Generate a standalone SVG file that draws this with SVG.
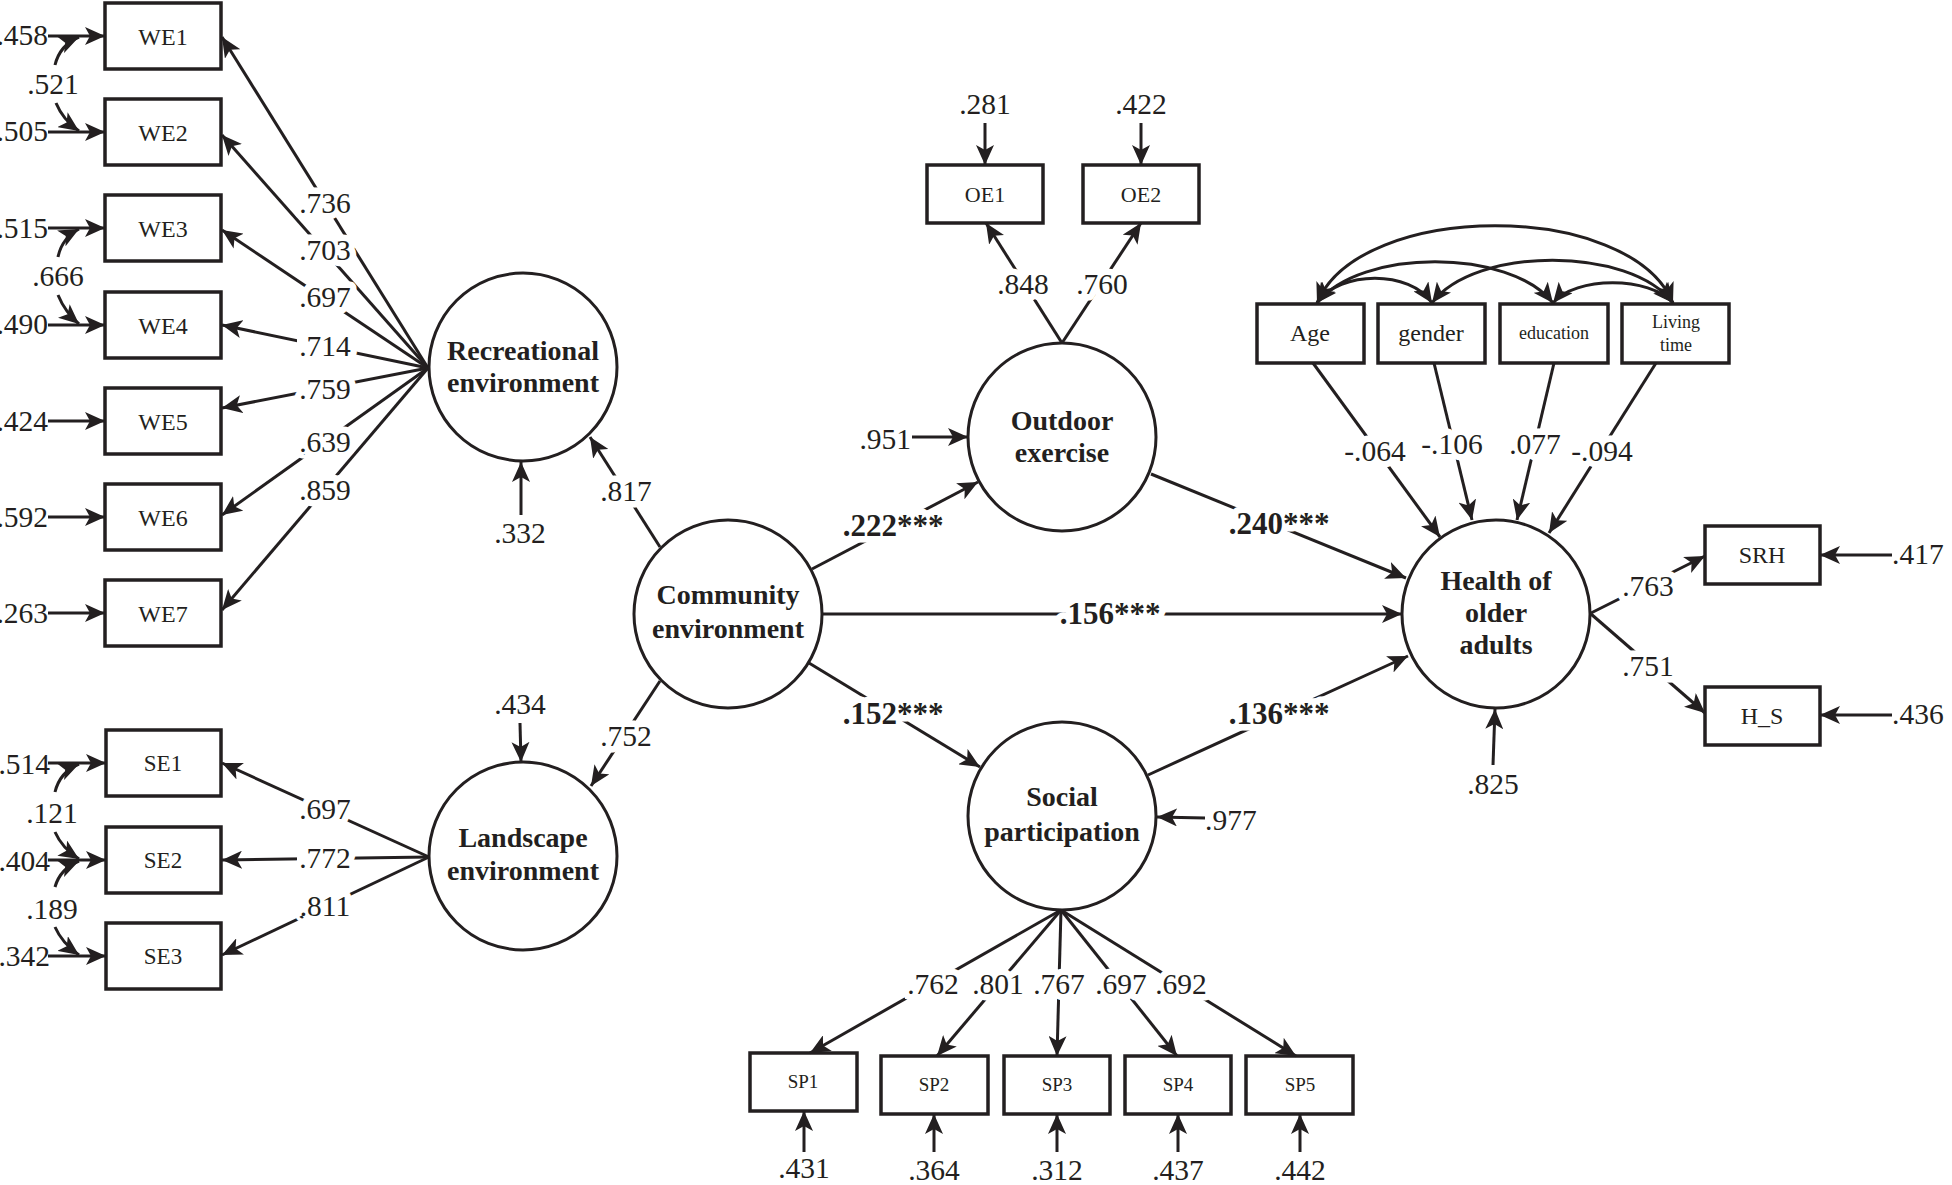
<svg xmlns="http://www.w3.org/2000/svg" width="1952" height="1185" viewBox="0 0 1952 1185">
<style>
.ln{stroke:#231f20;stroke-width:3;fill:none}
.a{marker-end:url(#ah)}
.d{marker-start:url(#ah);marker-end:url(#ah)}
.box{fill:#fff;stroke:#231f20;stroke-width:3.5}
.lat{fill:#fff;stroke:#231f20;stroke-width:3}
.bg{fill:#fff}
text{font-family:"Liberation Serif","Times New Roman",serif;fill:#231f20;text-anchor:middle}
.n{font-size:29.5px}
.h{stroke:#fff;stroke-width:13px;paint-order:stroke;stroke-linejoin:round}
.bl{font-size:28px;font-weight:bold}
.bp{font-size:31px;font-weight:bold}
.e{text-anchor:end}
.s{text-anchor:start}
</style>
<defs>
<marker id="ah" markerUnits="userSpaceOnUse" markerWidth="22" markerHeight="18" refX="20" refY="9" orient="auto-start-reverse" viewBox="0 0 22 18">
<path d="M0,0 L20,9 L0,18 L5,9 Z" fill="#231f20"/>
</marker>
</defs>
<rect width="1952" height="1185" fill="#fff"/>

<g id="nodes">
<g id="WE1"><rect class="box" x="105" y="3" width="116" height="66"/><text x="163" y="45" font-size="24">WE1</text></g>
<g id="WE2"><rect class="box" x="105" y="99" width="116" height="66"/><text x="163" y="141" font-size="24">WE2</text></g>
<g id="WE3"><rect class="box" x="105" y="195" width="116" height="66"/><text x="163" y="237" font-size="24">WE3</text></g>
<g id="WE4"><rect class="box" x="105" y="292" width="116" height="66"/><text x="163" y="334" font-size="24">WE4</text></g>
<g id="WE5"><rect class="box" x="105" y="388" width="116" height="66"/><text x="163" y="430" font-size="24">WE5</text></g>
<g id="WE6"><rect class="box" x="105" y="484" width="116" height="66"/><text x="163" y="526" font-size="24">WE6</text></g>
<g id="WE7"><rect class="box" x="105" y="580" width="116" height="66"/><text x="163" y="622" font-size="24">WE7</text></g>
<g id="SE1"><rect class="box" x="106" y="730" width="115" height="66"/><text x="163" y="771" font-size="23">SE1</text></g>
<g id="SE2"><rect class="box" x="106" y="827" width="115" height="66"/><text x="163" y="868" font-size="23">SE2</text></g>
<g id="SE3"><rect class="box" x="106" y="923" width="115" height="66"/><text x="163" y="964" font-size="23">SE3</text></g>
<g id="OE1"><rect class="box" x="927" y="165" width="116" height="58"/><text x="985" y="202" font-size="22">OE1</text></g>
<g id="OE2"><rect class="box" x="1083" y="165" width="116" height="58"/><text x="1141" y="202" font-size="22">OE2</text></g>
<g id="Age"><rect class="box" x="1257" y="304" width="107" height="59"/><text x="1310" y="341" font-size="24">Age</text></g>
<g id="gender"><rect class="box" x="1378" y="304" width="107" height="59"/><text x="1431" y="341" font-size="24">gender</text></g>
<g id="education"><rect class="box" x="1500" y="304" width="108" height="59"/><text x="1554" y="339" font-size="18">education</text></g>
<g id="LivingTime"><rect class="box" x="1622" y="304" width="107" height="59"/><text x="1676" y="328" font-size="18">Living</text><text x="1676" y="351" font-size="18">time</text></g>
<g id="SRH"><rect class="box" x="1705" y="526" width="115" height="58"/><text x="1762" y="563" font-size="24">SRH</text></g>
<g id="H_S"><rect class="box" x="1705" y="687" width="115" height="58"/><text x="1762" y="724" font-size="24">H_S</text></g>
<g id="SP1"><rect class="box" x="750" y="1053" width="107" height="58"/><text x="803" y="1088" font-size="19">SP1</text></g>
<g id="SP2"><rect class="box" x="881" y="1056" width="107" height="58"/><text x="934" y="1091" font-size="19">SP2</text></g>
<g id="SP3"><rect class="box" x="1004" y="1056" width="106" height="58"/><text x="1057" y="1091" font-size="19">SP3</text></g>
<g id="SP4"><rect class="box" x="1125" y="1056" width="106" height="58"/><text x="1178" y="1091" font-size="19">SP4</text></g>
<g id="SP5"><rect class="box" x="1246" y="1056" width="107" height="58"/><text x="1300" y="1091" font-size="19">SP5</text></g>

<g id="Recreational"><circle class="lat" cx="523" cy="367" r="94"/><text class="bl" x="523" y="360">Recreational</text><text class="bl" x="523" y="392">environment</text></g>
<g id="Landscape"><circle class="lat" cx="523" cy="856" r="94"/><text class="bl" x="523" y="847">Landscape</text><text class="bl" x="523" y="880">environment</text></g>
<g id="Community"><circle class="lat" cx="728" cy="614" r="94"/><text class="bl" x="728" y="604">Community</text><text class="bl" x="728" y="638">environment</text></g>
<g id="Outdoor"><circle class="lat" cx="1062" cy="437" r="94"/><text class="bl" x="1062" y="430">Outdoor</text><text class="bl" x="1062" y="462">exercise</text></g>
<g id="Social"><circle class="lat" cx="1062" cy="816" r="94"/><text class="bl" x="1062" y="806">Social</text><text class="bl" x="1062" y="841">participation</text></g>
<g id="Health"><circle class="lat" cx="1496" cy="614" r="94"/><text class="bl" x="1496" y="590">Health of</text><text class="bl" x="1496" y="622">older</text><text class="bl" x="1496" y="654">adults</text></g>
</g>

<g id="connectors">
<line class="ln a" x1="48" y1="36" x2="105" y2="36"/>
<line class="ln a" x1="48" y1="132" x2="105" y2="132"/>
<line class="ln a" x1="48" y1="228" x2="105" y2="228"/>
<line class="ln a" x1="48" y1="325" x2="105" y2="325"/>
<line class="ln a" x1="48" y1="421" x2="105" y2="421"/>
<line class="ln a" x1="48" y1="517" x2="105" y2="517"/>
<line class="ln a" x1="48" y1="613" x2="105" y2="613"/>
<line class="ln a" x1="48" y1="763" x2="106" y2="763"/>
<line class="ln a" x1="48" y1="860" x2="106" y2="860"/>
<line class="ln a" x1="48" y1="956" x2="106" y2="956"/>
<path class="ln a" d="M55,65 Q60,45 79,37"/>
<path class="ln a" d="M56,103 Q63,120 79,131"/>
<path class="ln a" d="M58,257 Q62,238 79,229"/>
<path class="ln a" d="M58,295 Q65,312 79,324"/>
<path class="ln a" d="M55,792 Q60,772 79,764"/>
<path class="ln a" d="M55,832 Q62,848 79,859"/>
<path class="ln a" d="M55,887 Q60,869 79,861"/>
<path class="ln a" d="M55,927 Q62,943 79,955"/>
<line class="ln a" x1="428" y1="368" x2="222" y2="37"/>
<line class="ln a" x1="428" y1="368" x2="222" y2="135"/>
<line class="ln a" x1="428" y1="368" x2="222" y2="230"/>
<line class="ln a" x1="428" y1="368" x2="222" y2="325"/>
<line class="ln a" x1="428" y1="368" x2="222" y2="408"/>
<line class="ln a" x1="428" y1="368" x2="222" y2="515"/>
<line class="ln a" x1="428" y1="368" x2="222" y2="610"/>
<line class="ln a" x1="429" y1="857" x2="222" y2="763"/>
<line class="ln a" x1="429" y1="857" x2="222" y2="860"/>
<line class="ln a" x1="429" y1="857" x2="222" y2="955"/>
<line class="ln a" x1="521" y1="515" x2="521" y2="462"/>
<line class="ln a" x1="520" y1="723" x2="521" y2="762"/>
<line class="ln a" x1="912" y1="437" x2="968" y2="437"/>
<line class="ln a" x1="1205" y1="818" x2="1157" y2="817"/>
<line class="ln a" x1="1493" y1="765" x2="1495" y2="709"/>
<line class="ln a" x1="660" y1="547" x2="590" y2="437"/>
<line class="ln a" x1="660" y1="681" x2="591" y2="786"/>
<line class="ln a" x1="812" y1="569" x2="978" y2="482"/>
<line class="ln a" x1="822" y1="614" x2="1402" y2="614"/>
<line class="ln a" x1="809" y1="663" x2="980" y2="767"/>
<line class="ln a" x1="1151" y1="474" x2="1406" y2="578"/>
<line class="ln a" x1="1148" y1="775" x2="1408" y2="656"/>
<line class="ln a" x1="1062" y1="343" x2="986" y2="223"/>
<line class="ln a" x1="1062" y1="343" x2="1141" y2="223"/>
<line class="ln a" x1="985" y1="123" x2="985" y2="165"/>
<line class="ln a" x1="1141" y1="123" x2="1141" y2="165"/>
<line class="ln a" x1="1061" y1="910" x2="810" y2="1053"/>
<line class="ln a" x1="1061" y1="910" x2="937" y2="1056"/>
<line class="ln a" x1="1061" y1="910" x2="1057" y2="1056"/>
<line class="ln a" x1="1061" y1="910" x2="1177" y2="1056"/>
<line class="ln a" x1="1061" y1="910" x2="1296" y2="1056"/>
<line class="ln a" x1="804" y1="1152" x2="804" y2="1111"/>
<line class="ln a" x1="934" y1="1152" x2="934" y2="1114"/>
<line class="ln a" x1="1057" y1="1152" x2="1057" y2="1114"/>
<line class="ln a" x1="1178" y1="1152" x2="1178" y2="1114"/>
<line class="ln a" x1="1300" y1="1152" x2="1300" y2="1114"/>
<line class="ln a" x1="1313" y1="363" x2="1440" y2="537"/>
<line class="ln a" x1="1434" y1="363" x2="1472" y2="520"/>
<line class="ln a" x1="1554" y1="363" x2="1517" y2="520"/>
<line class="ln a" x1="1656" y1="363" x2="1549" y2="533"/>
<path class="ln d" d="M1317,303 C1360,200 1630,200 1673,303"/>
<path class="ln d" d="M1317,303 C1360,248 1510,248 1553,303"/>
<path class="ln d" d="M1317,303 C1340,270 1410,270 1432,303"/>
<path class="ln d" d="M1432,303 C1475,246 1630,246 1673,303"/>
<path class="ln d" d="M1553,303 C1575,276 1650,276 1673,303"/>
<line class="ln a" x1="1591" y1="613" x2="1705" y2="556"/>
<line class="ln a" x1="1591" y1="614" x2="1705" y2="713"/>
<line class="ln a" x1="1892" y1="555" x2="1820" y2="555"/>
<line class="ln a" x1="1892" y1="715" x2="1820" y2="715"/>

<rect class="bg" x="297" y="333" width="56" height="28"/>
<rect class="bg" x="297" y="376" width="56" height="28"/>
<rect class="bg" x="297" y="845" width="56" height="28"/>
<rect class="bg" x="905" y="971" width="56" height="28"/>
<rect class="bg" x="1620" y="573" width="56" height="28"/>
<rect class="bg" x="1620" y="653" width="56" height="28"/>

<g class="n">
<text class="e" x="48" y="45">.458</text>
<text class="e" x="48" y="141">.505</text>
<text class="e" x="48" y="238">.515</text>
<text class="e" x="48" y="334">.490</text>
<text class="e" x="48" y="431">.424</text>
<text class="e" x="48" y="527">.592</text>
<text class="e" x="48" y="623">.263</text>
<text class="e" x="50" y="774">.514</text>
<text class="e" x="50" y="871">.404</text>
<text class="e" x="50" y="966">.342</text>
<text class="h" x="53" y="94">.521</text>
<text class="h" x="58" y="286">.666</text>
<text class="h" x="52" y="823">.121</text>
<text class="h" x="52" y="919">.189</text>
<text class="h" x="325" y="213">.736</text>
<text class="h" x="325" y="260">.703</text>
<text class="h" x="325" y="307">.697</text>
<text class="h" x="325" y="356">.714</text>
<text class="h" x="325" y="399">.759</text>
<text class="h" x="325" y="452">.639</text>
<text class="h" x="325" y="500">.859</text>
<text class="h" x="325" y="819">.697</text>
<text class="h" x="325" y="868">.772</text>
<text class="h" x="325" y="916">.811</text>
<text x="520" y="543">.332</text>
<text x="520" y="714">.434</text>
<text class="h" x="626" y="501">.817</text>
<text class="h" x="626" y="746">.752</text>
<text class="e" x="911" y="449">.951</text>
<text x="985" y="114">.281</text>
<text x="1141" y="114">.422</text>
<text class="h" x="1023" y="294">.848</text>
<text class="h" x="1102" y="294">.760</text>
<text class="s" x="1205" y="830">.977</text>
<text class="h" x="1375" y="461">-.064</text>
<text class="h" x="1452" y="454">-.106</text>
<text class="h" x="1535" y="454">.077</text>
<text class="h" x="1602" y="461">-.094</text>
<text x="1493" y="794">.825</text>
<text class="s" x="1892" y="564">.417</text>
<text class="s" x="1892" y="724">.436</text>
<text class="h" x="1648" y="596">.763</text>
<text class="h" x="1648" y="676">.751</text>
<text class="h" x="933" y="994">.762</text>
<text class="h" x="998" y="994">.801</text>
<text class="h" x="1059" y="994">.767</text>
<text class="h" x="1121" y="994">.697</text>
<text class="h" x="1181" y="994">.692</text>
<text x="804" y="1178">.431</text>
<text x="934" y="1180">.364</text>
<text x="1057" y="1180">.312</text>
<text x="1178" y="1180">.437</text>
<text x="1300" y="1180">.442</text>
</g>
<g class="bp">
<text class="h" x="893" y="536">.222***</text>
<text class="h" x="1110" y="624">.156***</text>
<text class="h" x="893" y="724">.152***</text>
<text class="h" x="1279" y="534">.240***</text>
<text class="h" x="1279" y="724">.136***</text>
</g>
</g>
</svg>
